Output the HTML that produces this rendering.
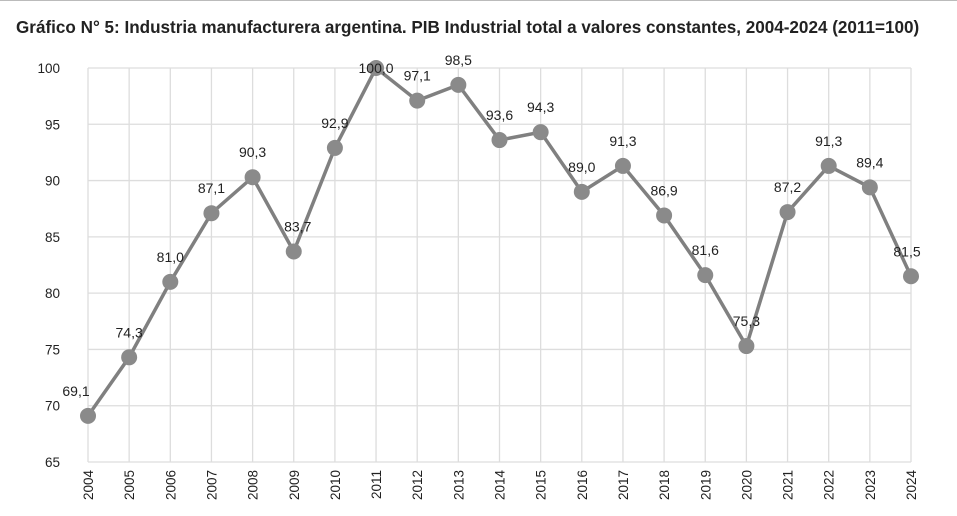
<!DOCTYPE html>
<html><head><meta charset="utf-8"><style>body{margin:0;background:#fff}svg{display:block}</style></head>
<body>
<svg width="957" height="516" xmlns="http://www.w3.org/2000/svg" font-family="Liberation Sans, sans-serif">
<rect width="957" height="516" fill="#fff"/>
<line x1="0" y1="0.5" x2="957" y2="0.5" stroke="#bbb"/>
<text x="16" y="33" font-size="17.1" font-weight="bold" fill="#222">Gráfico N° 5: Industria manufacturera argentina. PIB Industrial total a valores constantes, 2004-2024 (2011=100)</text>
<g id="g"></g>
</svg>
<script>
const vals=[69.1,74.3,81.0,87.1,90.3,83.7,92.9,100.0,97.1,98.5,93.6,94.3,89.0,91.3,86.9,81.6,75.3,87.2,91.3,89.4,81.5];
const X0=88,DX=41.15,Y=v=>462-(v-65)*394/35;
let s='';
for(let v=65;v<=100;v+=5){const y=Y(v);s+=`<line x1="${X0}" x2="${X0+20*DX}" y1="${y}" y2="${y}" stroke="#ddd" stroke-width="1.3"/><text x="60" y="${y+5}" font-size="13.5" text-anchor="end" fill="#222">${v}</text>`;}
for(let i=0;i<21;i++){const x=X0+i*DX;s+=`<line x1="${x}" x2="${x}" y1="${Y(100)}" y2="462" stroke="#ddd" stroke-width="1.3"/><text transform="translate(${x+5},470) rotate(-90)" font-size="13.5" text-anchor="end" fill="#222">${2004+i}</text>`;}
s+=`<polyline fill="none" stroke="#808080" stroke-width="3.5" points="${vals.map((v,i)=>(X0+i*DX)+','+Y(v)).join(' ')}"/>`;
vals.forEach((v,i)=>{const x=X0+i*DX,y=Y(v);s+=`<circle cx="${x}" cy="${y}" r="8" fill="#8a8a8a"/>`;});
vals.forEach((v,i)=>{const x=X0+i*DX,y=Y(v);
let lx=x; if(i==0)lx=x-12; if(i==5)lx=x+4; if(i==20)lx=x-4;
let ly=y-20; if(i==7)ly=y+5;
s+=`<text x="${lx}" y="${ly}" font-size="14" text-anchor="middle" fill="#222">${v.toFixed(1).replace('.',',')}</text>`;});
document.getElementById('g').innerHTML=s;
</script>
</body></html>
